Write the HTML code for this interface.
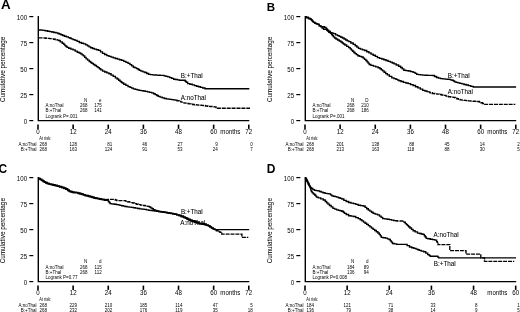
<!DOCTYPE html>
<html><head><meta charset="utf-8"><title>Kaplan-Meier curves</title>
<style>html,body{margin:0;padding:0;background:#fff;overflow:hidden}svg{display:block;will-change:transform}text{stroke:#000;stroke-width:0px}</style>
</head><body>
<svg width="520" height="312" viewBox="0 0 520 312" font-family='"Liberation Sans", sans-serif' fill="#000" stroke-linecap="butt">
<rect width="520" height="312" fill="#fff"/>
<text x="1" y="9.3" font-size="13.4" text-anchor="start" font-weight="bold">A</text>
<text x="0" y="0" font-size="6.35" text-anchor="middle" transform="translate(5.3,69.4) rotate(-90) scale(1,1)" style="stroke:#000;stroke-width:0.04px">Cumulative percentage</text>
<path d="M38.3,16V120.6H249.3" fill="none" stroke="#000" stroke-width="1.4"/>
<line x1="29.3" y1="120.6" x2="33.3" y2="120.6" stroke="#000" stroke-width="1.2"/>
<text transform="translate(27.1,124) scale(0.96,1)" font-size="6.4" text-anchor="end">0</text>
<line x1="29.3" y1="94.6" x2="33.3" y2="94.6" stroke="#000" stroke-width="1.2"/>
<text transform="translate(27.1,98) scale(0.96,1)" font-size="6.4" text-anchor="end">25</text>
<line x1="29.3" y1="68.6" x2="33.3" y2="68.6" stroke="#000" stroke-width="1.2"/>
<text transform="translate(27.1,72) scale(0.96,1)" font-size="6.4" text-anchor="end">50</text>
<line x1="29.3" y1="42.6" x2="33.3" y2="42.6" stroke="#000" stroke-width="1.2"/>
<text transform="translate(27.1,46) scale(0.96,1)" font-size="6.4" text-anchor="end">75</text>
<line x1="29.3" y1="16.6" x2="33.3" y2="16.6" stroke="#000" stroke-width="1.2"/>
<text transform="translate(27.1,20) scale(0.96,1)" font-size="6.4" text-anchor="end">100</text>
<line x1="38" y1="124.6" x2="38" y2="128.9" stroke="#000" stroke-width="1.6"/>
<text transform="translate(38,133.6) scale(0.96,1)" font-size="6.4" text-anchor="middle">0</text>
<line x1="73.13" y1="124.6" x2="73.13" y2="128.9" stroke="#000" stroke-width="1.6"/>
<text transform="translate(73.13,133.6) scale(0.96,1)" font-size="6.4" text-anchor="middle">12</text>
<line x1="108.26" y1="124.6" x2="108.26" y2="128.9" stroke="#000" stroke-width="1.6"/>
<text transform="translate(108.26,133.6) scale(0.96,1)" font-size="6.4" text-anchor="middle">24</text>
<line x1="143.39" y1="124.6" x2="143.39" y2="128.9" stroke="#000" stroke-width="1.6"/>
<text transform="translate(143.39,133.6) scale(0.96,1)" font-size="6.4" text-anchor="middle">36</text>
<line x1="178.52" y1="124.6" x2="178.52" y2="128.9" stroke="#000" stroke-width="1.6"/>
<text transform="translate(178.52,133.6) scale(0.96,1)" font-size="6.4" text-anchor="middle">48</text>
<line x1="213.65" y1="124.6" x2="213.65" y2="128.9" stroke="#000" stroke-width="1.6"/>
<text transform="translate(213.65,133.6) scale(0.96,1)" font-size="6.4" text-anchor="middle">60</text>
<line x1="248.78" y1="124.6" x2="248.78" y2="128.9" stroke="#000" stroke-width="1.6"/>
<text transform="translate(248.78,133.6) scale(0.96,1)" font-size="6.4" text-anchor="middle">72</text>
<text transform="translate(220.3,133.6) scale(0.96,1)" font-size="6.4" text-anchor="start">months</text>
<text x="87.3" y="101.6" font-size="4.5" text-anchor="end">N</text>
<text x="101.5" y="101.6" font-size="4.5" text-anchor="end">e</text>
<text x="45.5" y="107.4" font-size="4.5" text-anchor="start">A:noThal</text>
<text x="87.5" y="107.4" font-size="4.5" text-anchor="end">268</text>
<text x="101.7" y="107.4" font-size="4.5" text-anchor="end">175</text>
<text x="45.5" y="112" font-size="4.5" text-anchor="start">B:+Thal</text>
<text x="87.5" y="112" font-size="4.5" text-anchor="end">268</text>
<text x="101.7" y="112" font-size="4.5" text-anchor="end">141</text>
<text x="45.5" y="117.9" font-size="4.5" text-anchor="start">Logrank P=.001</text>
<text transform="translate(39.3,140.1) scale(0.87,1)" font-size="4.5" text-anchor="start">At risk:</text>
<text x="36.5" y="145.9" font-size="4.5" text-anchor="end">A:noThal</text>
<text x="36.5" y="151.4" font-size="4.5" text-anchor="end">B:+Thal</text>
<text x="39.5" y="145.9" font-size="4.5" text-anchor="start">268</text>
<text x="39.5" y="151.4" font-size="4.5" text-anchor="start">268</text>
<text x="77.13" y="145.9" font-size="4.5" text-anchor="end">128</text>
<text x="77.13" y="151.4" font-size="4.5" text-anchor="end">163</text>
<text x="112.26" y="145.9" font-size="4.5" text-anchor="end">81</text>
<text x="112.26" y="151.4" font-size="4.5" text-anchor="end">124</text>
<text x="147.39" y="145.9" font-size="4.5" text-anchor="end">46</text>
<text x="147.39" y="151.4" font-size="4.5" text-anchor="end">91</text>
<text x="182.52" y="145.9" font-size="4.5" text-anchor="end">27</text>
<text x="182.52" y="151.4" font-size="4.5" text-anchor="end">53</text>
<text x="217.65" y="145.9" font-size="4.5" text-anchor="end">9</text>
<text x="217.65" y="151.4" font-size="4.5" text-anchor="end">24</text>
<text x="252.78" y="145.9" font-size="4.5" text-anchor="end">0</text>
<text x="252.78" y="151.4" font-size="4.5" text-anchor="end">7</text>
<polyline points="38.6,29.8 39.5,29.8 39.5,29.97 41.3,29.97 41.3,30.13 43.1,30.13 43.1,30.3 44,30.3 45.17,30.3 45.17,30.75 47.53,30.75 47.53,31.2 48.7,31.2 49.7,31.2 49.7,31.6 51.7,31.6 51.7,32 52.7,32 53.83,32 53.83,32.45 56.08,32.45 56.08,32.9 57.2,32.9 57.9,32.9 57.9,33.45 59.3,33.45 59.3,34 60,34 60.88,34 60.88,34.75 62.62,34.75 62.62,35.5 63.5,35.5 64.47,35.5 64.47,36.2 66.4,36.2 66.4,36.9 68.33,36.9 68.33,37.6 69.3,37.6 69.97,37.6 69.97,38.2 71.33,38.2 71.33,38.8 72,38.8 73,38.8 73,39.55 75,39.55 75,40.3 76,40.3 77.1,40.3 77.1,41.4 79.3,41.4 79.3,42.5 80.4,42.5 81.48,42.5 81.48,43.2 83.62,43.2 83.62,43.9 84.7,43.9 85.75,43.9 85.75,44.8 86.8,44.8 87.55,44.8 87.55,45.85 89.05,45.85 89.05,46.9 89.8,46.9 90.7,46.9 90.7,47.7 92.5,47.7 92.5,48.5 93.4,48.5 94.42,48.5 94.42,49.13 96.45,49.13 96.45,49.77 98.48,49.77 98.48,50.4 99.5,50.4 100.5,50.4 100.5,51.9 102.5,51.9 102.5,53.4 103.5,53.4 104.6,53.4 104.6,54.5 106.8,54.5 106.8,55.6 107.9,55.6 108.97,55.6 108.97,56.37 111.1,56.37 111.1,57.13 113.23,57.13 113.23,57.9 114.3,57.9 115.35,57.9 115.35,58.52 117.45,58.52 117.45,59.15 119.55,59.15 119.55,59.77 121.65,59.77 121.65,60.4 122.7,60.4 123.77,60.4 123.77,61.37 125.9,61.37 125.9,62.33 128.03,62.33 128.03,63.3 129.1,63.3 129.95,63.3 129.95,64.6 131.65,64.6 131.65,65.9 133.35,65.9 133.35,67.2 134.2,67.2 135.02,67.2 135.02,67.9 136.68,67.9 136.68,68.6 137.5,68.6 138.12,68.6 138.12,69.5 139.38,69.5 139.38,70.4 140,70.4 140.97,70.4 140.97,71.1 142.9,71.1 142.9,71.8 144.83,71.8 144.83,72.5 145.8,72.5 146.75,72.5 146.75,73.45 148.65,73.45 148.65,74.4 149.6,74.4 150.57,74.4 150.57,74.6 152.5,74.6 152.5,74.8 154.43,74.8 154.43,75 155.4,75 156.36,75 156.36,75.1 158.29,75.1 158.29,75.2 160.21,75.2 160.21,75.3 162.14,75.3 162.14,75.4 163.1,75.4 164.05,75.4 164.05,75.9 165.95,75.9 165.95,76.4 167.85,76.4 167.85,76.9 168.8,76.9 169.77,76.9 169.77,77.67 171.7,77.67 171.7,78.43 173.63,78.43 173.63,79.2 174.6,79.2 175.57,79.2 175.57,79.53 177.5,79.53 177.5,79.87 179.43,79.87 179.43,80.2 180.4,80.2 184.7,80.2 185.2,80.2 185.2,81.2 186.2,81.2 186.2,82.2 186.7,82.2 187.7,82.2 187.7,83.6 188.7,83.6 189.9,83.6 189.9,84.25 192.3,84.25 192.3,84.9 193.5,84.9 194.5,84.9 194.5,85.55 196.5,85.55 196.5,86.2 197.5,86.2 198.5,86.2 198.5,86.75 200.5,86.75 200.5,87.3 201.5,87.3 202.68,87.3 202.68,88 205.02,88 205.02,88.7 206.2,88.7 249.3,88.7" fill="none" stroke="#000" stroke-width="1.35" stroke-linejoin="miter"/>
<polyline points="38.6,37.8 44.5,38 45.55,38 45.55,38.2 47.65,38.2 47.65,38.4 49.75,38.4 49.75,38.6 51.85,38.6 51.85,38.8 52.9,38.8 53.75,38.8 53.75,39.26 55.45,39.26 55.45,39.72 57.15,39.72 57.15,40.18 58,40.18" fill="none" stroke="#000" stroke-width="1.35" stroke-linejoin="miter" stroke-dasharray="4,0.9"/>
<polyline points="58,40.18 58.6,40.18 58.6,40.5 59.2,40.5 60.2,40.5 60.2,41.85 62.2,41.85 62.2,43.2 63.2,43.2 63.78,43.2 63.78,44.4 64.92,44.4 64.92,45.6 65.5,45.6 66.03,45.6 66.03,46.5 67.07,46.5 67.07,47.4 67.6,47.4 68.68,47.4 68.68,48.23 70.85,48.23 70.85,49.07 73.02,49.07 73.02,49.9 74.1,49.9 75.15,49.9 75.15,51.05 77.25,51.05 77.25,52.2 78.3,52.2 79.1,52.2 79.1,53 80.7,53 80.7,53.8 81.5,53.8 82.12,53.8 82.12,54.8 83.38,54.8 83.38,55.8 84,55.8 84.7,55.8 84.7,57.3 86.1,57.3 86.1,58.8 86.8,58.8 87.6,58.8 87.6,60.15 89.2,60.15 89.2,61.5 90,61.5 90.62,61.5 90.62,62.45 91.88,62.45 91.88,63.4 92.5,63.4 93.3,63.4 93.3,64.47 94.9,64.47 94.9,65.53 96.5,65.53 96.5,66.6 97.3,66.6 98,66.6 98,67.67 99.4,67.67 99.4,68.73 100.8,68.73 100.8,69.8 101.5,69.8 102.6,69.8 102.6,71.1 103.7,71.1 104.75,71.1 104.75,71.97 106.85,71.97 106.85,72.83 108.95,72.83 108.95,73.7 110,73.7 111.07,73.7 111.07,75.07 113.2,75.07 113.2,76.43 115.33,76.43 115.33,77.8 116.4,77.8 117.13,77.8 117.13,79 118.6,79 118.6,80.2 120.07,80.2 120.07,81.4 120.8,81.4 121.28,81.4 121.28,82.2 122.22,82.2 122.22,83 122.7,83 123.77,83 123.77,84.2 125.9,84.2 125.9,85.4 128.03,85.4 128.03,86.6 129.1,86.6 129.95,86.6 129.95,87.37 131.65,87.37 131.65,88.13 133.35,88.13 133.35,88.9 134.2,88.9 135.17,88.9 135.17,89.37 137.1,89.37 137.1,89.83 139.03,89.83 139.03,90.3 140,90.3 141.05,90.3 141.05,90.63 143.15,90.63 143.15,90.97 145.25,90.97 145.25,91.3 146.3,91.3 147.37,91.3 147.37,91.8 149.5,91.8 149.5,92.3 151.63,92.3 151.63,92.8 152.7,92.8 153.52,92.8 153.52,93.7 155.18,93.7 155.18,94.6 156,94.6 156.75,94.6 156.75,95.5 158.25,95.5 158.25,96.4 159,96.4 160.07,96.4 160.07,97.1 162.2,97.1 162.2,97.8 164.33,97.8 164.33,98.5 165.4,98.5 166.3,98.5 166.3,98.8 168.1,98.8 168.1,99.1 169.9,99.1 169.9,99.4 170.8,99.4 171.67,99.4 171.67,99.63 173.4,99.63 173.4,99.87 175.13,99.87 175.13,100.1 176,100.1" fill="none" stroke="#000" stroke-width="1.35" stroke-linejoin="miter"/>
<polyline points="176,100.1 177,100.1 177,100.75 179,100.75 179,101.4 180,101.4 181,101.4 181,102.1 183,102.1 183,102.8 184,102.8 185,102.8 185,103.15 187,103.15 187,103.5 188,103.5 188.92,103.5 188.92,103.83 190.75,103.83 190.75,104.17 192.58,104.17 192.58,104.5 193.5,104.5 194.38,104.5 194.38,104.7 196.15,104.7 196.15,104.9 197.92,104.9 197.92,105.1 198.8,105.1 199.7,105.1 199.7,105.23 201.5,105.23 201.5,105.37 203.3,105.37 203.3,105.5 204.2,105.5 205.4,105.5 205.4,105.95 207.8,105.95 207.8,106.4 209,106.4 210,106.4 210,106.53 212,106.53 212,106.67 214,106.67 214,106.8 215,106.8 216,106.8 216,108.2 217,108.2 250,108.2" fill="none" stroke="#000" stroke-width="1.35" stroke-linejoin="miter" stroke-dasharray="4,0.9"/>
<text x="180.8" y="77.7" font-size="6.3" text-anchor="start" style="stroke:#000;stroke-width:0.05px">B:+Thal</text>
<text x="180.8" y="99.7" font-size="6.3" text-anchor="start" style="stroke:#000;stroke-width:0.05px">A:noThal</text>
<text x="266.8" y="10.5" font-size="11.5" text-anchor="start" font-weight="bold">B</text>
<text x="0" y="0" font-size="6.35" text-anchor="middle" transform="translate(272.3,69.4) rotate(-90) scale(1,1)" style="stroke:#000;stroke-width:0.04px">Cumulative percentage</text>
<path d="M305.3,16V120.6H516.2" fill="none" stroke="#000" stroke-width="1.4"/>
<line x1="296.3" y1="120.6" x2="300.3" y2="120.6" stroke="#000" stroke-width="1.2"/>
<text transform="translate(294.1,124) scale(0.96,1)" font-size="6.4" text-anchor="end">0</text>
<line x1="296.3" y1="94.6" x2="300.3" y2="94.6" stroke="#000" stroke-width="1.2"/>
<text transform="translate(294.1,98) scale(0.96,1)" font-size="6.4" text-anchor="end">25</text>
<line x1="296.3" y1="68.6" x2="300.3" y2="68.6" stroke="#000" stroke-width="1.2"/>
<text transform="translate(294.1,72) scale(0.96,1)" font-size="6.4" text-anchor="end">50</text>
<line x1="296.3" y1="42.6" x2="300.3" y2="42.6" stroke="#000" stroke-width="1.2"/>
<text transform="translate(294.1,46) scale(0.96,1)" font-size="6.4" text-anchor="end">75</text>
<line x1="296.3" y1="16.6" x2="300.3" y2="16.6" stroke="#000" stroke-width="1.2"/>
<text transform="translate(294.1,20) scale(0.96,1)" font-size="6.4" text-anchor="end">100</text>
<line x1="305" y1="124.6" x2="305" y2="128.9" stroke="#000" stroke-width="1.6"/>
<text transform="translate(305,133.6) scale(0.96,1)" font-size="6.4" text-anchor="middle">0</text>
<line x1="340.13" y1="124.6" x2="340.13" y2="128.9" stroke="#000" stroke-width="1.6"/>
<text transform="translate(340.13,133.6) scale(0.96,1)" font-size="6.4" text-anchor="middle">12</text>
<line x1="375.26" y1="124.6" x2="375.26" y2="128.9" stroke="#000" stroke-width="1.6"/>
<text transform="translate(375.26,133.6) scale(0.96,1)" font-size="6.4" text-anchor="middle">24</text>
<line x1="410.39" y1="124.6" x2="410.39" y2="128.9" stroke="#000" stroke-width="1.6"/>
<text transform="translate(410.39,133.6) scale(0.96,1)" font-size="6.4" text-anchor="middle">36</text>
<line x1="445.52" y1="124.6" x2="445.52" y2="128.9" stroke="#000" stroke-width="1.6"/>
<text transform="translate(445.52,133.6) scale(0.96,1)" font-size="6.4" text-anchor="middle">48</text>
<line x1="480.65" y1="124.6" x2="480.65" y2="128.9" stroke="#000" stroke-width="1.6"/>
<text transform="translate(480.65,133.6) scale(0.96,1)" font-size="6.4" text-anchor="middle">60</text>
<line x1="515.78" y1="124.6" x2="515.78" y2="128.9" stroke="#000" stroke-width="1.6"/>
<text transform="translate(515.78,133.6) scale(0.96,1)" font-size="6.4" text-anchor="middle">72</text>
<text transform="translate(487.3,133.6) scale(0.96,1)" font-size="6.4" text-anchor="start">months</text>
<text x="354.3" y="101.6" font-size="4.5" text-anchor="end">N</text>
<text x="368.5" y="101.6" font-size="4.5" text-anchor="end">D</text>
<text x="312.5" y="107.4" font-size="4.5" text-anchor="start">A:noThal</text>
<text x="354.5" y="107.4" font-size="4.5" text-anchor="end">268</text>
<text x="368.7" y="107.4" font-size="4.5" text-anchor="end">210</text>
<text x="312.5" y="112" font-size="4.5" text-anchor="start">B:+Thal</text>
<text x="354.5" y="112" font-size="4.5" text-anchor="end">268</text>
<text x="368.7" y="112" font-size="4.5" text-anchor="end">186</text>
<text x="312.5" y="117.9" font-size="4.5" text-anchor="start">Logrank P=.001</text>
<text transform="translate(306.3,140.1) scale(0.87,1)" font-size="4.5" text-anchor="start">At risk:</text>
<text x="303.5" y="145.9" font-size="4.5" text-anchor="end">A:noThal</text>
<text x="303.5" y="151.4" font-size="4.5" text-anchor="end">B:+Thal</text>
<text x="306.5" y="145.9" font-size="4.5" text-anchor="start">268</text>
<text x="306.5" y="151.4" font-size="4.5" text-anchor="start">268</text>
<text x="344.13" y="145.9" font-size="4.5" text-anchor="end">201</text>
<text x="344.13" y="151.4" font-size="4.5" text-anchor="end">213</text>
<text x="379.26" y="145.9" font-size="4.5" text-anchor="end">138</text>
<text x="379.26" y="151.4" font-size="4.5" text-anchor="end">163</text>
<text x="414.39" y="145.9" font-size="4.5" text-anchor="end">88</text>
<text x="414.39" y="151.4" font-size="4.5" text-anchor="end">118</text>
<text x="449.52" y="145.9" font-size="4.5" text-anchor="end">45</text>
<text x="449.52" y="151.4" font-size="4.5" text-anchor="end">88</text>
<text x="484.65" y="145.9" font-size="4.5" text-anchor="end">14</text>
<text x="484.65" y="151.4" font-size="4.5" text-anchor="end">30</text>
<text x="519.78" y="145.9" font-size="4.5" text-anchor="end">2</text>
<text x="519.78" y="151.4" font-size="4.5" text-anchor="end">5</text>
<polyline points="305.5,16.9 306.5,16.9 306.5,17.5 307.5,17.5 308.45,17.5 308.45,18.5 309.4,18.5 310.05,18.5 310.05,18.8 310.7,18.8 311.02,18.8 311.02,19.6 311.68,19.6 311.68,20.4 312,20.4 312.48,20.4 312.48,21.35 313.42,21.35 313.42,22.3 313.9,22.3 314.85,22.3 314.85,23.3 315.8,23.3 316.45,23.3 316.45,23.8 317.75,23.8 317.75,24.3 318.4,24.3 319.2,24.3 319.2,25.8 320,25.8 320.8,25.8 320.8,26.6 321.6,26.6 323.5,26.6 324.5,26.6 324.5,27.4 325.5,27.4 326,27.4 326,28.4 326.5,28.4 326.88,28.4 326.88,29.4 327.62,29.4 327.62,30.4 328,30.4 328.8,30.4 328.8,31.5 330.4,31.5 330.4,32.6 331.2,32.6 332,32.6 332,33.1 333.6,33.1 333.6,33.6 334.4,33.6 335.6,33.6 335.6,34.8 336.8,34.8 337.6,34.8 337.6,35.6 339.2,35.6 339.2,36.4 340,36.4 340.82,36.4 340.82,37.2 342.48,37.2 342.48,38 343.3,38 344.1,38 344.1,39 345.7,39 345.7,40 346.5,40 347.27,40 347.27,40.8 348.83,40.8 348.83,41.6 349.6,41.6 350.8,41.6 350.8,43 353.2,43 353.2,44.4 354.4,44.4 355.22,44.4 355.22,45.73 356.85,45.73 356.85,47.07 358.48,47.07 358.48,48.4 359.3,48.4 360.37,48.4 360.37,49.1 362.5,49.1 362.5,49.8 364.63,49.8 364.63,50.5 365.7,50.5 366.77,50.5 366.77,51.7 368.9,51.7 368.9,52.9 371.03,52.9 371.03,54.1 372.1,54.1 373.17,54.1 373.17,55.27 375.3,55.27 375.3,56.43 377.43,56.43 377.43,57.6 378.5,57.6 379.57,57.6 379.57,58.3 381.7,58.3 381.7,59 383.83,59 383.83,59.7 384.9,59.7 385.97,59.7 385.97,60.5 388.1,60.5 388.1,61.3 390.23,61.3 390.23,62.1 391.3,62.1 392.23,62.1 392.23,62.95 394.07,62.95 394.07,63.8 395,63.8 396.2,63.8 396.2,65 398.6,65 398.6,66.2 399.8,66.2 400.6,66.2 400.6,67.53 402.2,67.53 402.2,68.87 403.8,68.87 403.8,70.2 404.6,70.2 405.8,70.2 405.8,70.6 408.2,70.6 408.2,71 409.4,71 410.62,71 410.62,71.65 413.07,71.65 413.07,72.3 414.3,72.3 415.1,72.3 415.1,73.3 416.7,73.3 416.7,74.3 417.5,74.3 418.57,74.3 418.57,74.57 420.7,74.57 420.7,74.83 422.83,74.83 422.83,75.1 423.9,75.1 425.1,75.1 425.1,75.2 427.5,75.2 427.5,75.3 429.9,75.3 429.9,75.4 432.3,75.4 432.3,75.5 433.5,75.5 434.5,75.5 434.5,76.5 436.5,76.5 436.5,77.5 437.5,77.5 438.5,77.5 438.5,78.05 440.5,78.05 440.5,78.6 441.5,78.6 442.7,78.6 442.7,78.85 445.1,78.85 445.1,79.1 446.3,79.1 447.12,79.1 447.12,79.25 448.78,79.25 448.78,79.4 449.6,79.4 450.4,79.4 450.4,79.8 452,79.8 452,80.2 452.8,80.2 453.4,80.2 453.4,81 454.6,81 454.6,81.8 455.2,81.8 456.13,81.8 456.13,82.33 458,82.33 458,82.87 459.87,82.87 459.87,83.4 460.8,83.4 461.87,83.4 461.87,83.93 464,83.93 464,84.47 466.13,84.47 466.13,85 467.2,85 468.4,85 468.4,85.65 470.8,85.65 470.8,86.3 472,86.3 473.25,86.3 473.25,87 474.5,87 516.1,87" fill="none" stroke="#000" stroke-width="1.35" stroke-linejoin="miter"/>
<polyline points="305.5,16.9 306.5,16.9 306.5,17.5 307.5,17.5 308.45,17.5 308.45,18.5 309.4,18.5 310.05,18.5 310.05,18.8 310.7,18.8 311.02,18.8 311.02,19.6 311.68,19.6 311.68,20.4 312,20.4 312.48,20.4 312.48,21.35 313.42,21.35 313.42,22.3 313.9,22.3 314.85,22.3 314.85,23.3 315.8,23.3 316.45,23.3 316.45,23.8 317.75,23.8 317.75,24.3 318.4,24.3 319.2,24.3 319.2,25.8 320,25.8 320.8,25.8 320.8,26.6 321.6,26.6 322.05,26.6 322.05,28 322.5,28 323.5,28 323.5,29.2 324.5,29.2 326.4,29.4 326.8,29.4 326.8,30.2 327.6,30.2 327.6,31 328,31 328.8,31 328.8,32.2 330.4,32.2 330.4,33.4 331.2,33.4 331.6,33.4 331.6,34.5 332.4,34.5 332.4,35.6 332.8,35.6 333.4,35.6 333.4,36.8 334.6,36.8 334.6,38 335.2,38 336,38 336,39 337.6,39 337.6,40 338.4,40 339.22,40 339.22,41 340.88,41 340.88,42 341.7,42 342.27,42 342.27,43 343.43,43 343.43,44 344,44 344.85,44 344.85,45 345.7,45 346.68,45 346.68,46.3 348.62,46.3 348.62,47.6 349.6,47.6 350.2,47.6 350.2,48.83 351.4,48.83 351.4,50.05 352.6,50.05 352.6,51.27 353.8,51.27 353.8,52.5 354.4,52.5 355.08,52.5 355.08,53.57 356.45,53.57 356.45,54.63 357.82,54.63 357.82,55.7 358.5,55.7 359.5,55.7 359.5,56.35 361.5,56.35 361.5,57 362.5,57 363.17,57 363.17,58.17 364.5,58.17 364.5,59.33 365.83,59.33 365.83,60.5 366.5,60.5 367.03,60.5 367.03,61.83 368.1,61.83 368.1,63.17 369.17,63.17 369.17,64.5 369.7,64.5 370.9,64.5 370.9,65.3 373.3,65.3 373.3,66.1 374.5,66.1 375.7,66.1 375.7,66.9 378.1,66.9 378.1,67.7 379.3,67.7 379.97,67.7 379.97,68.77 381.3,68.77 381.3,69.83 382.63,69.83 382.63,70.9 383.3,70.9 384.1,70.9 384.1,72.23 385.7,72.23 385.7,73.57 387.3,73.57 387.3,74.9 388.1,74.9 389.33,74.9 389.33,76.35 391.77,76.35 391.77,77.8 393,77.8 394,77.8 394,78.6 396,78.6 396,79.4 397,79.4 397.7,79.4 397.7,80.05 399.1,80.05 399.1,80.7 399.8,80.7 401,80.7 401,81.5 403.4,81.5 403.4,82.3 404.6,82.3 405.8,82.3 405.8,82.95 408.2,82.95 408.2,83.6 409.4,83.6 410.62,83.6 410.62,84.55 413.07,84.55 413.07,85.5 414.3,85.5 415.5,85.5 415.5,86.7 417.9,86.7 417.9,87.9 419.1,87.9 420.3,87.9 420.3,89.1 422.7,89.1 422.7,90.3 423.9,90.3 424.92,90.3 424.92,90.98 426.98,90.98 426.98,91.67 428,91.67" fill="none" stroke="#000" stroke-width="1.35" stroke-linejoin="miter"/>
<polyline points="428,91.67 428.7,91.9 429.9,91.9 429.9,92.7 432.3,92.7 432.3,93.5 433.5,93.5 434.7,93.5 434.7,93.8 437.1,93.8 437.1,94.1 438.3,94.1 439.38,94.1 439.38,94.53 441.55,94.53 441.55,94.97 443.72,94.97 443.72,95.4 444.8,95.4 446,95.4 446,96.05 448.4,96.05 448.4,96.7 449.6,96.7 450.8,96.7 450.8,97.05 453.2,97.05 453.2,97.4 454.4,97.4 455.2,97.4 455.2,98.05 456.8,98.05 456.8,98.7 457.6,98.7 458.4,98.7 458.4,99.3 460,99.3 460,99.9 460.8,99.9 461.87,99.9 461.87,100.13 464,100.13 464,100.37 466.13,100.37 466.13,100.6 467.2,100.6 468.4,100.6 468.4,100.85 470.8,100.85 470.8,101.1 472,101.1 473.08,101.1 473.08,101.23 475.25,101.23 475.25,101.37 477.42,101.37 477.42,101.5 478.5,101.5 479.3,101.5 479.3,102.1 480.9,102.1 480.9,102.7 481.7,102.7 482.5,102.7 482.5,103.5 484.1,103.5 484.1,104.3 484.9,104.3 515.3,104.3" fill="none" stroke="#000" stroke-width="1.35" stroke-linejoin="miter" stroke-dasharray="4,0.9"/>
<text x="447.7" y="78.1" font-size="6.3" text-anchor="start" style="stroke:#000;stroke-width:0.05px">B:+Thal</text>
<text x="447.7" y="94.2" font-size="6.3" text-anchor="start" style="stroke:#000;stroke-width:0.05px">A:noThal</text>
<text x="-1.4" y="172.6" font-size="12" text-anchor="start" font-weight="bold">C</text>
<text x="0" y="0" font-size="6.35" text-anchor="middle" transform="translate(5.3,230.7) rotate(-90) scale(1,1)" style="stroke:#000;stroke-width:0.04px">Cumulative percentage</text>
<path d="M38.3,177V281.6H249.3" fill="none" stroke="#000" stroke-width="1.4"/>
<line x1="29.3" y1="281.6" x2="33.3" y2="281.6" stroke="#000" stroke-width="1.2"/>
<text transform="translate(27.1,285) scale(0.96,1)" font-size="6.4" text-anchor="end">0</text>
<line x1="29.3" y1="255.6" x2="33.3" y2="255.6" stroke="#000" stroke-width="1.2"/>
<text transform="translate(27.1,259) scale(0.96,1)" font-size="6.4" text-anchor="end">25</text>
<line x1="29.3" y1="229.6" x2="33.3" y2="229.6" stroke="#000" stroke-width="1.2"/>
<text transform="translate(27.1,233) scale(0.96,1)" font-size="6.4" text-anchor="end">50</text>
<line x1="29.3" y1="203.6" x2="33.3" y2="203.6" stroke="#000" stroke-width="1.2"/>
<text transform="translate(27.1,207) scale(0.96,1)" font-size="6.4" text-anchor="end">75</text>
<line x1="29.3" y1="177.6" x2="33.3" y2="177.6" stroke="#000" stroke-width="1.2"/>
<text transform="translate(27.1,181) scale(0.96,1)" font-size="6.4" text-anchor="end">100</text>
<line x1="38" y1="285.6" x2="38" y2="289.9" stroke="#000" stroke-width="1.6"/>
<text transform="translate(38,294.6) scale(0.96,1)" font-size="6.4" text-anchor="middle">0</text>
<line x1="73.13" y1="285.6" x2="73.13" y2="289.9" stroke="#000" stroke-width="1.6"/>
<text transform="translate(73.13,294.6) scale(0.96,1)" font-size="6.4" text-anchor="middle">12</text>
<line x1="108.26" y1="285.6" x2="108.26" y2="289.9" stroke="#000" stroke-width="1.6"/>
<text transform="translate(108.26,294.6) scale(0.96,1)" font-size="6.4" text-anchor="middle">24</text>
<line x1="143.39" y1="285.6" x2="143.39" y2="289.9" stroke="#000" stroke-width="1.6"/>
<text transform="translate(143.39,294.6) scale(0.96,1)" font-size="6.4" text-anchor="middle">36</text>
<line x1="178.52" y1="285.6" x2="178.52" y2="289.9" stroke="#000" stroke-width="1.6"/>
<text transform="translate(178.52,294.6) scale(0.96,1)" font-size="6.4" text-anchor="middle">48</text>
<line x1="213.65" y1="285.6" x2="213.65" y2="289.9" stroke="#000" stroke-width="1.6"/>
<text transform="translate(213.65,294.6) scale(0.96,1)" font-size="6.4" text-anchor="middle">60</text>
<line x1="248.78" y1="285.6" x2="248.78" y2="289.9" stroke="#000" stroke-width="1.6"/>
<text transform="translate(248.78,294.6) scale(0.96,1)" font-size="6.4" text-anchor="middle">72</text>
<text transform="translate(220.3,294.6) scale(0.96,1)" font-size="6.4" text-anchor="start">months</text>
<text x="87.3" y="262.6" font-size="4.5" text-anchor="end">N</text>
<text x="101.5" y="262.6" font-size="4.5" text-anchor="end">d</text>
<text x="45.5" y="269.4" font-size="4.5" text-anchor="start">A:noThal</text>
<text x="87.5" y="269.4" font-size="4.5" text-anchor="end">268</text>
<text x="101.7" y="269.4" font-size="4.5" text-anchor="end">115</text>
<text x="45.5" y="274" font-size="4.5" text-anchor="start">B:+Thal</text>
<text x="87.5" y="274" font-size="4.5" text-anchor="end">268</text>
<text x="101.7" y="274" font-size="4.5" text-anchor="end">112</text>
<text x="45.5" y="278.9" font-size="4.5" text-anchor="start">Logrank P=0.77</text>
<text transform="translate(39.3,301.1) scale(0.87,1)" font-size="4.5" text-anchor="start">At risk:</text>
<text x="36.5" y="306.9" font-size="4.5" text-anchor="end">A:noThal</text>
<text x="36.5" y="312.4" font-size="4.5" text-anchor="end">B:+Thal</text>
<text x="39.5" y="306.9" font-size="4.5" text-anchor="start">268</text>
<text x="39.5" y="312.4" font-size="4.5" text-anchor="start">268</text>
<text x="77.13" y="306.9" font-size="4.5" text-anchor="end">229</text>
<text x="77.13" y="312.4" font-size="4.5" text-anchor="end">232</text>
<text x="112.26" y="306.9" font-size="4.5" text-anchor="end">210</text>
<text x="112.26" y="312.4" font-size="4.5" text-anchor="end">202</text>
<text x="147.39" y="306.9" font-size="4.5" text-anchor="end">185</text>
<text x="147.39" y="312.4" font-size="4.5" text-anchor="end">176</text>
<text x="182.52" y="306.9" font-size="4.5" text-anchor="end">114</text>
<text x="182.52" y="312.4" font-size="4.5" text-anchor="end">119</text>
<text x="217.65" y="306.9" font-size="4.5" text-anchor="end">47</text>
<text x="217.65" y="312.4" font-size="4.5" text-anchor="end">35</text>
<text x="252.78" y="306.9" font-size="4.5" text-anchor="end">5</text>
<text x="252.78" y="312.4" font-size="4.5" text-anchor="end">18</text>
<polyline points="38,178.5 38.77,178.5 38.77,179.1 40.33,179.1 40.33,179.7 41.1,179.7 41.75,179.7 41.75,180.65 43.05,180.65 43.05,181.6 43.7,181.6 44.35,181.6 44.35,182.35 45.65,182.35 45.65,183.1 46.3,183.1 47.25,183.1 47.25,183.75 49.15,183.75 49.15,184.4 50.1,184.4 51.05,184.4 51.05,184.8 52.95,184.8 52.95,185.2 53.9,185.2 55.02,185.2 55.02,185.8 57.27,185.8 57.27,186.4 58.4,186.4 59.52,186.4 59.52,187.05 61.77,187.05 61.77,187.7 62.9,187.7 63.88,187.7 63.88,188.5 65.83,188.5 65.83,189.3 66.8,189.3 67.6,189.3 67.6,190.45 69.2,190.45 69.2,191.6 70,191.6 70.8,191.6 70.8,192.05 72.4,192.05 72.4,192.5 73.2,192.5 74.15,192.5 74.15,192.7 76.05,192.7 76.05,192.9 77,192.9 77.97,192.9 77.97,193.5 79.93,193.5 79.93,194.1 80.9,194.1 81.75,194.1 81.75,194.63 83.45,194.63 83.45,195.17 85.15,195.17 85.15,195.7 86,195.7 86.85,195.7 86.85,196.13 88.55,196.13 88.55,196.57 90.25,196.57 90.25,197 91.1,197 92.1,197 92.1,197.6 94.1,197.6 94.1,198.2 95.1,198.2 95.97,198.2 95.97,198.57 97.7,198.57 97.7,198.93 99.43,198.93 99.43,199.3 100.3,199.3 101.15,199.3 101.15,199.6 102.85,199.6 102.85,199.9 104.55,199.9 104.55,200.2 105.4,200.2 107.9,200.4 108.33,200.4 108.33,201.47 109.2,201.47 109.2,202.53 110.07,202.53 110.07,203.6 110.5,203.6 111.35,203.6 111.35,203.8 113.05,203.8 113.05,204 114.75,204 114.75,204.2 115.6,204.2 116.47,204.2 116.47,204.57 118.2,204.57 118.2,204.93 119.93,204.93 119.93,205.3 120.8,205.3 121.65,205.3 121.65,205.7 123.35,205.7 123.35,206.1 125.05,206.1 125.05,206.5 125.9,206.5 126.97,206.5 126.97,206.8 129.1,206.8 129.1,207.1 131.23,207.1 131.23,207.4 132.3,207.4 133.37,207.4 133.37,207.77 135.5,207.77 135.5,208.13 137.63,208.13 137.63,208.5 138.7,208.5 139.77,208.5 139.77,208.8 141.9,208.8 141.9,209.1 144.03,209.1 144.03,209.4 145.1,209.4 146.35,209.4 146.35,209.9 148.85,209.9 148.85,210.4 150.1,210.4 151.07,210.4 151.07,210.6 153.03,210.6 153.03,210.8 154,210.8 154.95,210.8 154.95,211.1 156.85,211.1 156.85,211.4 157.8,211.4 158.87,211.4 158.87,211.7 161,211.7 161,212 163.13,212 163.13,212.3 164.2,212.3 165.17,212.3 165.17,212.63 167.1,212.63 167.1,212.97 169.03,212.97 169.03,213.3 170,213.3 170.93,213.3 170.93,213.67 172.8,213.67 172.8,214.03 174.67,214.03 174.67,214.4 175.6,214.4 176.72,214.4 176.72,214.8 178.97,214.8 178.97,215.2 180.1,215.2 181.22,215.2 181.22,216 183.47,216 183.47,216.8 184.6,216.8 185.38,216.8 185.38,217.6 186.92,217.6 186.92,218.4 187.7,218.4 188.52,218.4 188.52,219.15 190.18,219.15 190.18,219.9 191,219.9 192.1,219.9 192.1,220.65 194.3,220.65 194.3,221.4 195.4,221.4 196.55,221.4 196.55,222.25 198.85,222.25 198.85,223.1 200,223.1 200.9,223.1 200.9,223.4 202.7,223.4 202.7,223.7 204.5,223.7 204.5,224 205.4,224 206.35,224 206.35,224.8 208.25,224.8 208.25,225.6 209.2,225.6 210,225.6 210,226.8 211.6,226.8 211.6,228 212.4,228 213.2,228 213.2,228.8 214.8,228.8 214.8,229.6 215.6,229.6 249.2,229.6" fill="none" stroke="#000" stroke-width="1.35" stroke-linejoin="miter"/>
<polyline points="38,177.9 38.77,177.9 38.77,178.5 40.33,178.5 40.33,179.1 41.1,179.1 41.75,179.1 41.75,180.05 43.05,180.05 43.05,181 43.7,181 44.35,181 44.35,181.75 45.65,181.75 45.65,182.5 46.3,182.5 47.25,182.5 47.25,183.15 49.15,183.15 49.15,183.8 50.1,183.8 51.05,183.8 51.05,184.2 52.95,184.2 52.95,184.6 53.9,184.6 55.02,184.6 55.02,185.2 57.27,185.2 57.27,185.8 58.4,185.8 59.52,185.8 59.52,186.45 61.77,186.45 61.77,187.1 62.9,187.1 63.88,187.1 63.88,187.9 65.83,187.9 65.83,188.7 66.8,188.7 67.6,188.7 67.6,189.85 69.2,189.85 69.2,191 70,191 70.8,191 70.8,191.45 72.4,191.45 72.4,191.9 73.2,191.9 74.15,191.9 74.15,192.1 76.05,192.1 76.05,192.3 77,192.3 77.97,192.3 77.97,192.9 79.93,192.9 79.93,193.5 80.9,193.5 81.75,193.5 81.75,194.03 83.45,194.03 83.45,194.57 85.15,194.57 85.15,195.1 86,195.1 86.85,195.1 86.85,195.53 88.55,195.53 88.55,195.97 90.25,195.97 90.25,196.4 91.1,196.4 92.1,196.4 92.1,197 94.1,197 94.1,197.6 95.1,197.6 95.97,197.6 95.97,197.97 97.7,197.97 97.7,198.33 99.43,198.33 99.43,198.7 100.3,198.7 101.47,198.7 101.47,199.11 103.83,199.11 103.83,199.53 105,199.53" fill="none" stroke="#000" stroke-width="1.35" stroke-linejoin="miter"/>
<polyline points="105,199.53 105.4,199.6 107.9,199.4 114.4,199.4 115.2,199.4 115.2,200 116.8,200 116.8,200.6 117.6,200.6 124.6,200.6 125.57,200.6 125.57,201.15 127.53,201.15 127.53,201.7 128.5,201.7 129.35,201.7 129.35,202.13 131.05,202.13 131.05,202.57 132.75,202.57 132.75,203 133.6,203 134.55,203 134.55,203.6 136.45,203.6 136.45,204.2 137.4,204.2 138.47,204.2 138.47,204.63 140.6,204.63 140.6,205.07 142.73,205.07 142.73,205.5 143.8,205.5 145.05,205.5 145.05,205.9 147.55,205.9 147.55,206.3 148.8,206.3 149.4,206.3 149.4,206.99 150,206.99" fill="none" stroke="#000" stroke-width="1.35" stroke-linejoin="miter" stroke-dasharray="4,0.9"/>
<polyline points="150,206.99 150.7,206.99 150.7,207.8 151.4,207.8 152.05,207.8 152.05,208.75 153.35,208.75 153.35,209.7 154,209.7 154.95,209.7 154.95,210.35 156.85,210.35 156.85,211 157.8,211 158.87,211 158.87,211.3 161,211.3 161,211.6 163.13,211.6 163.13,211.9 164.2,211.9 165.17,211.9 165.17,212.23 167.1,212.23 167.1,212.57 169.03,212.57 169.03,212.9 170,212.9 170.93,212.9 170.93,213.27 172.8,213.27 172.8,213.63 174.67,213.63 174.67,214 175.6,214 176.72,214 176.72,214.9 178.97,214.9 178.97,215.8 180.1,215.8 181.22,215.8 181.22,216.7 183.47,216.7 183.47,217.6 184.6,217.6 185.38,217.6 185.38,218.4 186.92,218.4 186.92,219.2 187.7,219.2 188.52,219.2 188.52,219.95 190.18,219.95 190.18,220.7 191,220.7 192.1,220.7 192.1,221.45 194.3,221.45 194.3,222.2 195.4,222.2 196.55,222.2 196.55,223.05 198.85,223.05 198.85,223.9 200,223.9 200.9,223.9 200.9,224.17 202.7,224.17 202.7,224.43 204.5,224.43 204.5,224.7 205.4,224.7 206.35,224.7 206.35,225.4 208.25,225.4 208.25,226.1 209.2,226.1 209.9,226.1 209.9,227.02 211.3,227.02 211.3,227.94 212,227.94" fill="none" stroke="#000" stroke-width="1.35" stroke-linejoin="miter"/>
<polyline points="212,227.94 212.4,228.2 213.2,228.2 213.2,229.05 214.8,229.05 214.8,229.9 215.6,229.9 216.47,229.9 216.47,230.73 218.2,230.73 218.2,231.57 219.93,231.57 219.93,232.4 220.8,232.4 221.1,232.4 221.1,233.25 221.7,233.25 221.7,234.1 222,234.1 241.9,234.1 241.9,237.4 248.3,237.4" fill="none" stroke="#000" stroke-width="1.35" stroke-linejoin="miter" stroke-dasharray="4,0.9"/>
<text x="180.9" y="214" font-size="6.3" text-anchor="start" style="stroke:#000;stroke-width:0.05px">B:+Thal</text>
<text x="180.3" y="225.2" font-size="6.3" text-anchor="start" style="stroke:#000;stroke-width:0.05px">A:noThal</text>
<text x="266.7" y="172.6" font-size="12" text-anchor="start" font-weight="bold">D</text>
<text x="0" y="0" font-size="6.35" text-anchor="middle" transform="translate(272.3,230.7) rotate(-90) scale(1,1)" style="stroke:#000;stroke-width:0.04px">Cumulative percentage</text>
<path d="M305.3,177V281.6H516.2" fill="none" stroke="#000" stroke-width="1.4"/>
<line x1="296.3" y1="281.6" x2="300.3" y2="281.6" stroke="#000" stroke-width="1.2"/>
<text transform="translate(294.1,285) scale(0.96,1)" font-size="6.4" text-anchor="end">0</text>
<line x1="296.3" y1="255.6" x2="300.3" y2="255.6" stroke="#000" stroke-width="1.2"/>
<text transform="translate(294.1,259) scale(0.96,1)" font-size="6.4" text-anchor="end">25</text>
<line x1="296.3" y1="229.6" x2="300.3" y2="229.6" stroke="#000" stroke-width="1.2"/>
<text transform="translate(294.1,233) scale(0.96,1)" font-size="6.4" text-anchor="end">50</text>
<line x1="296.3" y1="203.6" x2="300.3" y2="203.6" stroke="#000" stroke-width="1.2"/>
<text transform="translate(294.1,207) scale(0.96,1)" font-size="6.4" text-anchor="end">75</text>
<line x1="296.3" y1="177.6" x2="300.3" y2="177.6" stroke="#000" stroke-width="1.2"/>
<text transform="translate(294.1,181) scale(0.96,1)" font-size="6.4" text-anchor="end">100</text>
<line x1="305" y1="285.6" x2="305" y2="289.9" stroke="#000" stroke-width="1.6"/>
<text transform="translate(305,294.6) scale(0.96,1)" font-size="6.4" text-anchor="middle">0</text>
<line x1="347.14" y1="285.6" x2="347.14" y2="289.9" stroke="#000" stroke-width="1.6"/>
<text transform="translate(347.14,294.6) scale(0.96,1)" font-size="6.4" text-anchor="middle">12</text>
<line x1="389.28" y1="285.6" x2="389.28" y2="289.9" stroke="#000" stroke-width="1.6"/>
<text transform="translate(389.28,294.6) scale(0.96,1)" font-size="6.4" text-anchor="middle">24</text>
<line x1="431.42" y1="285.6" x2="431.42" y2="289.9" stroke="#000" stroke-width="1.6"/>
<text transform="translate(431.42,294.6) scale(0.96,1)" font-size="6.4" text-anchor="middle">36</text>
<line x1="473.56" y1="285.6" x2="473.56" y2="289.9" stroke="#000" stroke-width="1.6"/>
<text transform="translate(473.56,294.6) scale(0.96,1)" font-size="6.4" text-anchor="middle">48</text>
<line x1="515.7" y1="285.6" x2="515.7" y2="289.9" stroke="#000" stroke-width="1.6"/>
<text transform="translate(515.7,294.6) scale(0.96,1)" font-size="6.4" text-anchor="middle">60</text>
<text transform="translate(487.3,294.6) scale(0.96,1)" font-size="6.4" text-anchor="start">months</text>
<text x="354.3" y="262.6" font-size="4.5" text-anchor="end">N</text>
<text x="368.5" y="262.6" font-size="4.5" text-anchor="end">d</text>
<text x="312.5" y="269.4" font-size="4.5" text-anchor="start">A:noThal</text>
<text x="354.5" y="269.4" font-size="4.5" text-anchor="end">184</text>
<text x="368.7" y="269.4" font-size="4.5" text-anchor="end">89</text>
<text x="312.5" y="274" font-size="4.5" text-anchor="start">B:+Thal</text>
<text x="354.5" y="274" font-size="4.5" text-anchor="end">136</text>
<text x="368.7" y="274" font-size="4.5" text-anchor="end">94</text>
<text x="312.5" y="278.9" font-size="4.5" text-anchor="start">Logrank P=0.008</text>
<text transform="translate(306.3,301.1) scale(0.87,1)" font-size="4.5" text-anchor="start">At risk:</text>
<text x="303.5" y="306.9" font-size="4.5" text-anchor="end">A:noThal</text>
<text x="303.5" y="312.4" font-size="4.5" text-anchor="end">B:+Thal</text>
<text x="306.5" y="306.9" font-size="4.5" text-anchor="start">184</text>
<text x="306.5" y="312.4" font-size="4.5" text-anchor="start">136</text>
<text x="351.14" y="306.9" font-size="4.5" text-anchor="end">121</text>
<text x="351.14" y="312.4" font-size="4.5" text-anchor="end">79</text>
<text x="393.28" y="306.9" font-size="4.5" text-anchor="end">71</text>
<text x="393.28" y="312.4" font-size="4.5" text-anchor="end">38</text>
<text x="435.42" y="306.9" font-size="4.5" text-anchor="end">33</text>
<text x="435.42" y="312.4" font-size="4.5" text-anchor="end">14</text>
<text x="477.56" y="306.9" font-size="4.5" text-anchor="end">8</text>
<text x="477.56" y="312.4" font-size="4.5" text-anchor="end">9</text>
<text x="519.7" y="306.9" font-size="4.5" text-anchor="end">1</text>
<text x="519.7" y="312.4" font-size="4.5" text-anchor="end">5</text>
<polyline points="305.8,177.8 306.08,177.8 306.08,178.93 306.65,178.93 306.65,180.07 307.22,180.07 307.22,181.2 307.5,181.2 307.88,181.2 307.88,182.7 308.62,182.7 308.62,184.2 309,184.2 309.32,184.2 309.32,185.6 309.98,185.6 309.98,187 310.3,187 310.45,187 310.45,188.27 310.75,188.27 310.75,189.53 311.05,189.53 311.05,190.8 311.2,190.8 311.6,190.8 311.6,191.85 312.4,191.85 312.4,192.9 312.8,192.9 313.43,192.9 313.43,193.95 314.68,193.95 314.68,195 315.3,195 315.73,195 315.73,196.05 316.57,196.05 316.57,197.1 317,197.1 318.25,197.1 318.25,197.9 319.5,197.9 320.75,197.9 320.75,198.8 322,198.8 323.25,198.8 323.25,200 324.5,200 325.25,200 325.25,201.5 326,201.5 326.65,201.5 326.65,202.8 327.95,202.8 327.95,204.1 328.6,204.1 329.47,204.1 329.47,205.5 331.2,205.5 331.2,206.9 332.93,206.9 332.93,208.3 333.8,208.3 334.75,208.3 334.75,209.1 336.65,209.1 336.65,209.9 337.6,209.9 338.45,209.9 338.45,210.33 340.15,210.33 340.15,210.77 341.85,210.77 341.85,211.2 342.7,211.2 343.27,211.2 343.27,212.25 344.43,212.25 344.43,213.3 345,213.3 346.2,213.3 346.2,214.5 348.6,214.5 348.6,215.7 349.8,215.7 351,215.7 351,216.1 353.4,216.1 353.4,216.5 354.6,216.5 355.8,216.5 355.8,217.55 358.2,217.55 358.2,218.6 359.4,218.6 360.22,218.6 360.22,219.77 361.85,219.77 361.85,220.93 363.48,220.93 363.48,222.1 364.3,222.1 365.1,222.1 365.1,223.27 366.7,223.27 366.7,224.43 368.3,224.43 368.3,225.6 369.1,225.6 369.9,225.6 369.9,226.83 371.5,226.83 371.5,228.07 373.1,228.07 373.1,229.3 373.9,229.3 374.7,229.3 374.7,230.53 376.3,230.53 376.3,231.77 377.9,231.77 377.9,233 378.7,233 379.23,233 379.23,234.43 380.3,234.43 380.3,235.87 381.37,235.87 381.37,237.3 381.9,237.3 383.1,237.3 383.1,237.7 385.5,237.7 385.5,238.1 386.7,238.1 387.48,238.1 387.48,238.8 389.02,238.8 389.02,239.5 389.8,239.5 390.33,239.5 390.33,240.83 391.4,240.83 391.4,242.17 392.47,242.17 392.47,243.5 393,243.5 394.2,243.5 394.2,243.9 396.6,243.9 396.6,244.3 397.8,244.3 405.9,244.3 407.1,244.3 407.1,245.65 409.5,245.65 409.5,247 410.7,247 411.77,247 411.77,247.7 413.9,247.7 413.9,248.4 416.03,248.4 416.03,249.1 417.1,249.1 417.83,249.1 417.83,249.75 419.27,249.75 419.27,250.4 420,250.4 421.2,250.4 421.2,251.05 423.6,251.05 423.6,251.7 424.8,251.7 425.77,251.7 425.77,253.15 427.73,253.15 427.73,254.6 428.7,254.6 429.18,254.6 429.18,255.4 430.12,255.4 430.12,256.2 430.6,256.2 437.3,256.2 437.77,256.2 437.77,257.05 438.73,257.05 438.73,257.9 439.2,257.9 516,257.9" fill="none" stroke="#000" stroke-width="1.35" stroke-linejoin="miter"/>
<polyline points="305.3,177.6 305.58,177.6 305.58,178.73 306.15,178.73 306.15,179.87 306.72,179.87 306.72,181 307,181 307.38,181 307.38,182.5 308.12,182.5 308.12,184 308.5,184 308.85,184 308.85,185.3 309.55,185.3 309.55,186.6 309.9,186.6 310.45,186.6 310.45,187.6 311,187.6 311.5,187.6 311.5,188.3 312,188.3 312.85,188.3 312.85,189.6 313.7,189.6 314.5,189.6 314.5,190.4 315.3,190.4 316.15,190.4 316.15,190.6 317.85,190.6 317.85,190.8 318.7,190.8 319.52,190.8 319.52,191.45 321.18,191.45 321.18,192.1 322,192.1 323,192.1 323,192.7 325,192.7 325,193.3 326,193.3 326.98,193.3 326.98,193.6 328.92,193.6 328.92,193.9 329.9,193.9 330.55,193.9 330.55,194.85 331.85,194.85 331.85,195.8 332.5,195.8 333.35,195.8 333.35,196.23 335.05,196.23 335.05,196.67 336.75,196.67 336.75,197.1 337.6,197.1 338.45,197.1 338.45,197.73 340.15,197.73 340.15,198.37 341.85,198.37 341.85,199 342.7,199 343.85,199 343.85,200.4 345,200.4 346.2,200.4 346.2,201.45 348.6,201.45 348.6,202.5 349.8,202.5 351,202.5 351,203.05 353.4,203.05 353.4,203.6 354.6,203.6 355.8,203.6 355.8,204.4 358.2,204.4 358.2,205.2 359.4,205.2 360.62,205.2 360.62,205.6 363.07,205.6 363.07,206 364.3,206 365.1,206 365.1,207.37 366.7,207.37 366.7,208.73 368.3,208.73 368.3,210.1 369.1,210.1 369.9,210.1 369.9,211.17 371.5,211.17 371.5,212.23 373.1,212.23 373.1,213.3 373.9,213.3 375.1,213.3 375.1,214.1 377.5,214.1 377.5,214.9 378.7,214.9 379.5,214.9 379.5,216.13 381.1,216.13 381.1,217.37 382.7,217.37 382.7,218.6 383.5,218.6 384.7,218.6 384.7,218.9 387.1,218.9 387.1,219.2 388.3,219.2 389.37,219.2 389.37,219.63 391.5,219.63 391.5,220.07 393.63,220.07 393.63,220.5 394.7,220.5 395,220.55" fill="none" stroke="#000" stroke-width="1.35" stroke-linejoin="miter"/>
<polyline points="395,220.55 395.7,220.55 395.7,220.77 397.1,220.77 397.1,221 397.8,221 403.5,221 404.1,221 404.1,222.25 405.3,222.25 405.3,223.5 405.9,223.5 406,223.6" fill="none" stroke="#000" stroke-width="1.35" stroke-linejoin="miter" stroke-dasharray="4,0.9"/>
<polyline points="406,223.6 406.52,223.6 406.52,224.63 407.55,224.63 407.55,225.67 408.58,225.67 408.58,226.7 409.1,226.7 409.9,226.7 409.9,228.03 411.5,228.03 411.5,229.37 413.1,229.37 413.1,230.7 413.9,230.7 415.1,230.7 415.1,231.9 417.5,231.9 417.5,233.1 418.7,233.1 419.55,233.1 419.55,233.53 421.25,233.53 421.25,233.97 422.95,233.97 422.95,234.4 423.8,234.4 424.28,234.4 424.28,235.7 425.25,235.7 425.25,237 426.22,237 426.22,238.3 426.7,238.3 427.9,238.3 427.9,238.75 430.3,238.75 430.3,239.2 431.5,239.2 432.62,239.2 432.62,239.67 434.88,239.67 434.88,240.14 436,240.14" fill="none" stroke="#000" stroke-width="1.35" stroke-linejoin="miter"/>
<polyline points="436,240.14 436.3,240.2 436.63,240.2 436.63,241.67 437.3,241.67 437.3,243.13 437.97,243.13 437.97,244.6 438.3,244.6 449.8,244.6 449.8,250.6 466,250.6 466,254.1 480.8,254.1 480.8,257.9 484.5,257.9 484.5,261.3 514.2,261.3" fill="none" stroke="#000" stroke-width="1.35" stroke-linejoin="miter" stroke-dasharray="4,0.9"/>
<text x="433.5" y="237" font-size="6.3" text-anchor="start" style="stroke:#000;stroke-width:0.05px">A:noThal</text>
<text x="433.8" y="265.9" font-size="6.3" text-anchor="start" style="stroke:#000;stroke-width:0.05px">B:+Thal</text>
</svg>
</body></html>
